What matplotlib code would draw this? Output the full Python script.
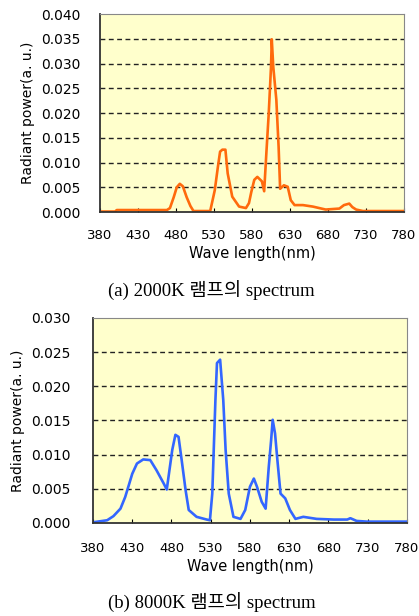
import matplotlib
matplotlib.use("Agg")
import matplotlib.pyplot as plt

# (a) 2000K lamp spectrum
wl_2000k = [380, 400, 402, 468, 472, 477, 481, 485, 489, 494, 499, 503, 512, 525, 531, 535,
            538, 541, 545, 548, 554, 563, 572, 576, 579, 583, 587, 593, 596, 599, 602, 605,
            606, 608, 612, 615, 617, 622, 627, 631, 636, 647, 660, 677, 695, 701, 708, 712,
            717, 726, 780]
pw_2000k = [0.0001, 0.0001, 0.0004, 0.0004, 0.0008, 0.0030, 0.0050, 0.0057, 0.0052, 0.0030,
            0.0012, 0.0002, 0.0002, 0.0002, 0.0044, 0.0090, 0.0122, 0.0126, 0.0126, 0.0078,
            0.0031, 0.0011, 0.0008, 0.0018, 0.0040, 0.0065, 0.0071, 0.0062, 0.0042, 0.0122,
            0.0199, 0.0293, 0.0349, 0.0293, 0.0227, 0.0132, 0.0047, 0.0054, 0.0051, 0.0024,
            0.0014, 0.0014, 0.0011, 0.0005, 0.0007, 0.0014, 0.0017, 0.0010, 0.0005, 0.0002,
            0.0002]

# (b) 8000K lamp spectrum
wl_8000k = [380, 398, 406, 415, 421, 425, 430, 436, 444, 453, 461, 470, 474, 481, 485, 489,
            493, 498, 502, 512, 525, 529, 532, 536, 538, 542, 546, 549, 553, 559, 568, 574,
            580, 585, 589, 595, 600, 604, 607, 609, 612, 615, 619, 625, 631, 638, 648, 665,
            687, 704, 708, 716, 729, 780]
pw_8000k = [0.0001, 0.0004, 0.0010, 0.0021, 0.0038, 0.0053, 0.0072, 0.0087, 0.0093, 0.0092,
            0.0077, 0.0058, 0.0049, 0.0107, 0.0129, 0.0126, 0.0092, 0.0048, 0.0019, 0.0009,
            0.0005, 0.0004, 0.0043, 0.0180, 0.0234, 0.0239, 0.0180, 0.0107, 0.0043, 0.0009,
            0.0006, 0.0019, 0.0053, 0.0065, 0.0053, 0.0031, 0.0021, 0.0082, 0.0121, 0.0151,
            0.0131, 0.0092, 0.0043, 0.0036, 0.0019, 0.0006, 0.0009, 0.0006, 0.0005, 0.0005,
            0.0007, 0.0003, 0.0002, 0.0002]

x_ticks = [380, 430, 480, 530, 580, 630, 680, 730, 780]
y_ticks_a = [0.000, 0.005, 0.010, 0.015, 0.020, 0.025, 0.030, 0.035, 0.040]
y_ticks_b = [0.000, 0.005, 0.010, 0.015, 0.020, 0.025, 0.030]

caption_font = ['Liberation Serif', 'Noto Sans CJK KR']

fig = plt.figure(figsize=(4.19, 6.16), dpi=100)


def spectrum_panel(rect, wl, pw, color, yticks, caption, cap_y, xpad, ypad):
    ax = fig.add_axes(rect)
    ax.set_facecolor('#ffffcc')
    ax.plot(wl, pw, color=color, linewidth=1.9)
    ax.set_xlim(380, 780)
    ax.set_ylim(yticks[0], yticks[-1])
    ax.set_xticks(x_ticks)
    ax.set_yticks(yticks)
    ax.set_yticklabels([f'{v:.3f}' for v in yticks])
    for v in yticks[1:-1]:
        ax.axhline(v, color='#222222', linestyle=(0, (3.5, 2.5)), linewidth=1.0, zorder=1)
    ax.tick_params(axis='x', direction='in', length=3, labelsize=9.5, pad=xpad)
    ax.tick_params(axis='y', direction='out', length=0, labelsize=10, pad=ypad)
    for side in ['top', 'right']:
        ax.spines[side].set_color('#888888')
    for side in ['left', 'bottom']:
        ax.spines[side].set_color('#333333')
        ax.spines[side].set_linewidth(1.3)
    ax.set_xlabel('Wave length(nm)', fontsize=10.5, labelpad=2.5)
    ax.set_ylabel('Radiant power(a. u.)', fontsize=10, labelpad=4.5)
    fig.text(0.505, cap_y, caption, ha='center', va='center', fontsize=13.5,
             family=caption_font)
    return ax


spectrum_panel([0.2387, 0.6558, 0.7255, 0.3214], wl_2000k, pw_2000k, '#ff6a0d',
               y_ticks_a, '(a) 2000K 램프의 spectrum', 1 - 291 / 616, 12.5, 14)
spectrum_panel([0.222, 0.151, 0.749, 0.3328], wl_8000k, pw_8000k, '#3366ff',
               y_ticks_b, '(b) 8000K 램프의 spectrum', 1 - 603 / 616, 14, 16)

fig.savefig('out.png', dpi=100)
